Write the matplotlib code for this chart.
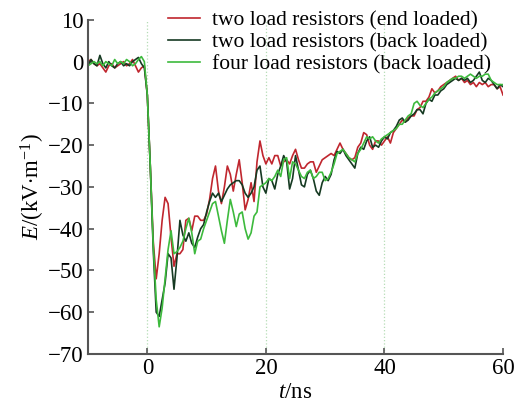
import numpy as np
import matplotlib
matplotlib.use("Agg")
import matplotlib.pyplot as plt

# Time axis (ns), 0.5 ns steps
t = np.arange(-10, 60.5, 0.5)

# Pre-trigger baseline (-10 .. -0.5 ns)
red_base = [0, 0.5, -0.5, -1, -0.5, -1.5, -2.5, -1, -0.5, -1.5,
            -1, -0.5, 0, -1, -0.5, 0.5, -1, -2.5, -1.5, -1]
dark_base = [-1, 0.5, -0.5, -1, 1.5, -0.5, -1.5, 0, -1, -1.5,
             -0.5, 0, -1, -0.5, -1, 0, 0.5, 1, -0.5, -1.5]
green_base = [-1, -0.5, 0, -0.5, 0, -1, 0, -0.5, -1, 0.5,
              -0.5, 0, -0.5, 0.5, 0, -1, -0.5, 0.5, 1.2, 0]

# 0 .. 60 ns
red_main = [-8, -25, -43, -52, -46, -38, -32.5, -34, -42, -49,
            -46, -46, -45, -38, -37.5, -40.5, -37, -37, -38, -38,
            -36.5, -33, -28, -25, -31, -34, -30, -25, -27, -31,
            -27, -23.5, -29, -35.5, -33, -29, -33.5, -24, -19, -22.5,
            -24.5, -23, -24.5, -22.5, -22.5, -25, -24, -23.5, -24.5, -22.5,
            -21, -23.5, -25.5, -25.5, -24.5, -24, -24, -26.5, -25, -23.5,
            -23, -22.5, -22, -22.5, -21, -19.5, -21, -22, -23, -23.5,
            -23, -20.5, -19.5, -17, -17.5, -20, -21, -19, -19, -20,
            -19, -18, -19.5, -17, -16, -15, -14, -14.5, -13.5, -13,
            -13, -11.5, -11, -9.5, -9.5, -8.5, -6.5, -7.5, -7, -6,
            -5.5, -5, -4.5, -4, -3.5, -4.5, -4, -5, -4.5, -5.5,
            -5, -6, -5, -5.5, -5, -6, -5.5, -5.5, -6.5, -6, -8]
dark_main = [-8, -25, -45, -60, -61, -57, -53, -46, -47, -54.5,
             -47, -38, -41.5, -43, -41, -43.5, -44.5, -42, -40, -39,
             -36, -33.5, -31.5, -32.5, -31.5, -33.5, -32, -30.5, -29.5, -29,
             -28.5, -28.5, -29.5, -31.5, -32.5, -31.5, -30, -26, -25, -30,
             -31.5, -28, -28.5, -30.5, -27, -25, -22.5, -24, -30.5, -28,
             -22.5, -26, -29.5, -30, -27, -26, -28, -31, -32, -29,
             -27.5, -28.5, -27, -23.5, -21.5, -22, -21, -22.5, -23.5, -24.5,
             -25.5, -22, -20.5, -21, -19, -18, -20.5, -20, -20.5, -19,
             -18, -18.5, -17, -16.5, -15.5, -14, -13.5, -14.5, -14, -13,
             -12.5, -11.5, -11.5, -12.5, -10, -9, -9.5, -8, -8, -7,
             -6.5, -5.5, -5, -4.5, -4, -4.5, -4, -4.5, -4, -5,
             -4.5, -3.5, -2.5, -4.5, -5, -4, -4.5, -5.5, -6.5, -5.5, -6]
green_main = [-8, -25, -44, -57, -63.5, -59, -52, -45, -40.5, -46,
              -45.5, -44.5, -43, -40, -37.5, -41, -46, -43, -42.5, -40,
              -38, -36, -34, -33.5, -37, -40.5, -43.5, -38, -33, -36,
              -39.5, -36.5, -36, -40, -42.5, -41, -37, -36, -30, -29.5,
              -29, -28, -28.5, -27.5, -26, -27.5, -23.5, -23, -28, -24,
              -24.5, -26, -27.5, -28, -26.5, -26, -28, -27.5, -26.5, -26.5,
              -28.5, -28, -26.5, -24.5, -22, -21.5, -21, -22, -23, -23.5,
              -24, -22, -21, -19.5, -18, -18.5, -18, -19, -19.5, -18.5,
              -18, -17.5, -17, -16.5, -16, -15, -15, -14, -13, -12.5,
              -10, -9.5, -10.5, -11, -10, -9, -8.5, -7.5, -7, -6.5,
              -6, -5, -4.5, -4, -4, -3.5, -3.5, -4, -3.5, -3,
              -3.5, -4, -3.5, -3.5, -3, -3, -4.5, -5, -5.5, -5.5, -5.5]

red = red_base + red_main
dark = dark_base + dark_main
green = green_base + green_main

labels = ["two load resistors (end loaded)",
          "two load resistors (back loaded)",
          "four load resistors (back loaded)"]
colors = ["#c0262e", "#163a22", "#3dba3d"]

plt.rcParams["font.family"] = ["Liberation Serif", "DejaVu Serif"]
plt.rcParams["mathtext.fontset"] = "custom"
plt.rcParams["mathtext.rm"] = "Liberation Serif"
plt.rcParams["mathtext.it"] = "Liberation Serif:italic"

fig = plt.figure(figsize=(5.24, 4.05), dpi=100)
ax = fig.add_axes([0.168, 0.126, 0.792, 0.825])

for xg in [0, 20, 40]:
    ax.axvline(xg, color="#b5dcb5", linestyle=":", linewidth=0.9, zorder=0)

for y, c, lab in zip([red, dark, green], colors, labels):
    ax.plot(t, y, color=c, linewidth=1.2, label=lab)

ax.set_xlim(-10, 60)
ax.set_ylim(-70, 10)
ax.set_xticks([0, 20, 40, 60])
ax.set_yticks(range(-70, 11, 10))
ax.set_yticklabels(["\u221270", "\u221260", "\u221250", "\u221240", "\u221230",
                    "\u221220", "\u221210", "0", "10"])
ax.tick_params(direction="in", labelsize=16.5, color="#555555", width=1.2,
               length=4, pad=3)

for s in ["top", "right"]:
    ax.spines[s].set_visible(False)
for s in ["left", "bottom"]:
    ax.spines[s].set_color("#555555")
    ax.spines[s].set_linewidth(1.5)

ax.set_xlabel(r"$t$/ns", fontsize=16.5, labelpad=2)
ax.set_ylabel(r"$E$/(kV$\cdot$m$^{-1}$)", fontsize=16.5, labelpad=1)

ax.legend(loc="upper left", bbox_to_anchor=(0.193, 1.029), frameon=False,
          fontsize=15.5, handlelength=1.5, handletextpad=0.55, labelspacing=0.1,
          borderaxespad=0.0, borderpad=0.0)

fig.savefig("out.png", dpi=100)
